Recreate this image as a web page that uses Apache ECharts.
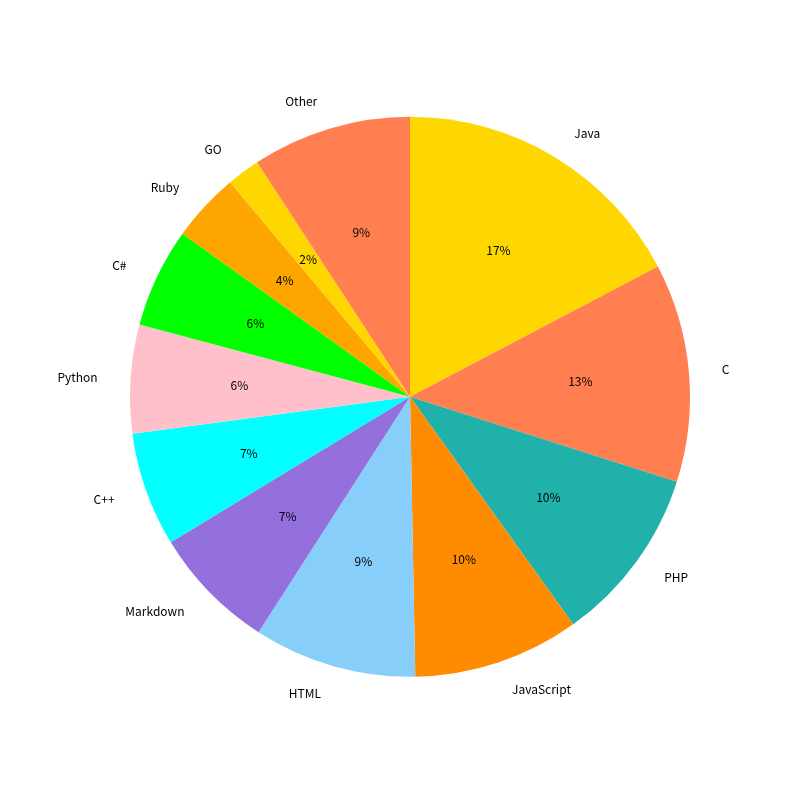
<!DOCTYPE html>
<html><head><meta charset="utf-8">
<script src="https://cdn.jsdelivr.net/npm/echarts@6/dist/echarts.min.js"></script>
<style>html,body{margin:0;background:#fff}#c{width:800px;height:800px}</style>
</head><body><div id="c"></div>
<script>
const categories = ['Java','C','PHP','JavaScript','HTML','Markdown','C++','Python','C#','Ruby','GO','Other'];
const values = [17.3,12.6,10.2,9.6,9.4,7.2,6.6,6.25,5.75,4.0,1.9,9.2];
const colors = ['#FFD700','#FF7F50','#20B2AA','#FF8C00','#87CEFA','#9370DB','#00FFFF','#FFC0CB','#00FF00','#FFA500','#FFD700','#FF7F50'];
const data = categories.map((n,i)=>({name:n,value:values[i],itemStyle:{color:colors[i]}}));
const font = {fontFamily:'Noto Sans CJK SC',fontSize:12,color:'#000'};
const chart = echarts.init(document.getElementById('c'));
chart.setOption({
  animation:false,
  series:[
    {type:'pie',center:['51.25%','49.6%'],radius:[0,280],startAngle:90,clockwise:true,
     data:data,label:Object.assign({position:'outside',formatter:'{b}'},font),
     labelLine:{show:false,length:28,length2:0},avoidLabelOverlap:false,silent:true},
    {type:'pie',center:['51.25%','49.6%'],radius:[56,280],startAngle:90,clockwise:true,
     data:data.map(d=>({name:d.name,value:d.value,itemStyle:{color:'rgba(0,0,0,0)'}})),
     label:Object.assign({position:'inside',formatter:p=>Math.round(p.percent)+'%'},font),
     labelLine:{show:false},silent:true}
  ]
});
</script></body></html>
